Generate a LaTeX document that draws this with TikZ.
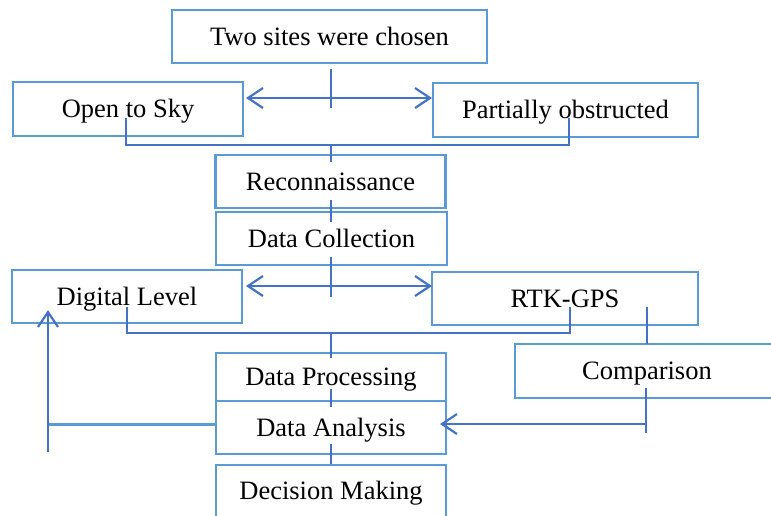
\documentclass[tikz,border=0pt]{standalone}
\usepackage{fontspec}
\setmainfont{Liberation Serif}
\usetikzlibrary{arrows.meta}
\definecolor{boxc}{HTML}{5B9BD5}
\definecolor{linec}{HTML}{4472C4}
\tikzset{
  stagebox/.style={draw=boxc, line width=2.2pt, rectangle, inner sep=0pt, align=center,
    font=\fontsize{26.5}{30}\selectfont, text height=17.5pt, text depth=0pt},
  conn/.style={draw=linec, line width=2.2pt},
  arr/.style={conn, -{Straight Barb[length=15pt,width=20pt]}},
  darr/.style={conn, {Straight Barb[length=15pt,width=20pt]}-{Straight Barb[length=15pt,width=20pt]}},
}
\begin{document}
\begin{tikzpicture}[x=1pt,y=-1pt]
\clip (0,0) rectangle (771,515);
\fill[white] (0,0) rectangle (771,515);
% boxes
\node[stagebox, minimum width=315pt, minimum height=53pt] (two) at (329.5,36.5) {Two sites were chosen};
\node[stagebox, minimum width=230pt, minimum height=54pt] (open) at (128,109) {Open to Sky};
\node[stagebox, minimum width=265pt, minimum height=54pt] (part) at (565.5,110) {Partially obstructed};
\node[stagebox, minimum width=230pt, minimum height=53pt] (rec) at (330.5,181.5) {Reconnaissance};
\node[stagebox, minimum width=231pt, minimum height=53pt] (dc) at (331.5,238.5) {Data Collection};
\node[stagebox, minimum width=230pt, minimum height=53pt] (dl) at (127,296.5) {Digital Level};
\node[stagebox, minimum width=266pt, minimum height=53pt] (rtk) at (565,298.5) {RTK-GPS};
\node[stagebox, minimum width=264pt, minimum height=54pt] (cmp) at (647,371) {Comparison};
\node[stagebox, minimum width=230pt, minimum height=48pt] (dp) at (331,377) {Data Processing};
\node[stagebox, minimum width=230pt, minimum height=53pt] (da) at (331,427.5) {Data Analysis};
\node[stagebox, minimum width=230pt, minimum height=52pt] (dm) at (331,491) {Decision Making};
% connector coordinates
\coordinate (t1) at (331,69);
\coordinate (t2) at (331,108);
\coordinate (a1) at (246,98);
\coordinate (a2) at (432,98);
\coordinate (b1) at (126,118);
\coordinate (b2) at (126,145);
\coordinate (b3) at (569,145);
\coordinate (b4) at (569,118);
\coordinate (b5) at (331,145);
\coordinate (b6) at (331,162);
\coordinate (r1) at (331,200);
\coordinate (r2) at (331,222);
\coordinate (d1) at (331,257);
\coordinate (d2) at (331,297);
\coordinate (a3) at (246,286);
\coordinate (a4) at (432,286);
\coordinate (c1) at (127,307);
\coordinate (c2) at (127,333);
\coordinate (c3) at (570,333);
\coordinate (c4) at (570,307);
\coordinate (c5) at (331,333);
\coordinate (c6) at (331,358);
\coordinate (g1) at (647,307);
\coordinate (g2) at (647,344);
\coordinate (p1) at (331,389);
\coordinate (p2) at (331,407);
\coordinate (q1) at (331,444);
\coordinate (q2) at (331,464);
\coordinate (m1) at (646,388);
\coordinate (m2) at (646,433);
\coordinate (m3) at (646,424);
\coordinate (m4) at (440,424);
\coordinate (l1) at (216,424);
\coordinate (l2) at (48,424);
\coordinate (l3) at (48,452);
\coordinate (l4) at (48,310);
% connectors
\draw[conn] (t1) -- (t2);
\draw[darr] (a1) -- (a2);
\draw[conn] (b1) -- (b2) -- (b3) -- (b4);
\draw[conn] (b5) -- (b6);
\draw[conn] (r1) -- (r2);
\draw[conn] (d1) -- (d2);
\draw[darr] (a3) -- (a4);
\draw[conn] (c1) -- (c2) -- (c3) -- (c4);
\draw[conn] (c5) -- (c6);
\draw[conn] (g1) -- (g2);
\draw[conn] (p1) -- (p2);
\draw[conn] (q1) -- (q2);
\draw[conn] (m1) -- (m2);
\draw[arr] (m3) -- (m4);
\draw[draw=boxc, line width=3pt] (l1) -- (l2);
\draw[arr] (l3) -- (l4);
\end{tikzpicture}
\end{document}
